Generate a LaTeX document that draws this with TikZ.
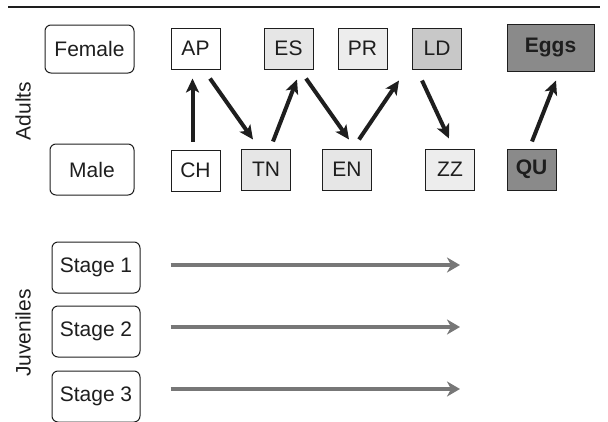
\documentclass[tikz,border=0pt]{standalone}
\usepackage{fontspec}
\setmainfont{Liberation Sans}
\usepackage{tikz}
\usetikzlibrary{arrows.meta}

\definecolor{inkgray}{HTML}{1E1E1E}
\definecolor{lightfill}{HTML}{E6E6E6}
\definecolor{paler}{HTML}{EDEDED}
\definecolor{midfill}{HTML}{C8C8C8}
\definecolor{darkfill}{HTML}{8A8A8A}
\definecolor{juvgray}{HTML}{777777}

\begin{document}
\begin{tikzpicture}[x=1pt,y=-1pt,
    font=\fontsize{21}{24}\selectfont,text=inkgray,
    sexbox/.style={draw=inkgray,line width=1pt,rounded corners=6pt,minimum height=48pt,inner sep=0pt},
    cls/.style={draw=inkgray,line width=1pt,minimum width=49pt,minimum height=41pt,inner sep=0pt},
    flow/.style={-{Stealth[length=14pt,width=13pt,inset=3.5pt]},line width=4pt,inkgray},
    juv/.style={-{Stealth[length=13pt,width=15pt,inset=4pt]},line width=4.2pt,juvgray}]
  \clip (0,0) rectangle (608,421);
  \draw[line width=1.6pt,inkgray] (8,7) -- (600,7);
  % adults
  \node[rotate=90] (adults) at (23,111) {Adults};
  \node[sexbox,minimum width=89pt] (female) at (89.5,49) {Female};
  \node[sexbox,minimum width=84pt,minimum height=51pt] (male) at (92,169.5) {Male};
  \node[cls] (AP) at (195.5,48.5) {AP};
  \node[cls,fill=lightfill] (ES) at (288.5,48.5) {ES};
  \node[cls,fill=paler] (PR) at (362.5,48.5) {PR};
  \node[cls,fill=midfill] (LD) at (437,48.5) {LD};
  \node[cls,fill=darkfill,minimum width=87pt,minimum height=47pt,font=\fontsize{21}{24}\selectfont\bfseries] (eggs) at (550.5,47.5) {Eggs};
  \node[cls] (CH) at (195.5,170.5) {CH};
  \node[cls,fill=lightfill] (TN) at (266,169.5) {TN};
  \node[cls,fill=lightfill] (EN) at (347,169.5) {EN};
  \node[cls,fill=paler] (ZZ) at (450,169.5) {ZZ};
  \node[cls,fill=darkfill,font=\fontsize{21}{24}\selectfont\bfseries] (QU) at (531.5,169.5) {QU};
  \draw[flow] ([shift={(-3,-8)}]CH.north) -- ([shift={(-3,9)}]AP.south);
  \draw[flow] ([shift={(14.5,9)}]AP.south) -- ([shift={(-13,-9)}]TN.north);
  \draw[flow] ([shift={(7,-7)}]TN.north) -- ([shift={(8.5,10)}]ES.south);
  \draw[flow] ([shift={(17.5,9)}]ES.south) -- ([shift={(2,-9)}]EN.north);
  \draw[flow] ([shift={(12,-9)}]EN.north) -- ([shift={(-38,11)}]LD.south);
  \draw[flow] ([shift={(-15,11)}]LD.south) -- ([shift={(-1,-10)}]ZZ.north);
  \draw[flow] ([shift={(0.5,-7)}]QU.north) -- ([shift={(5.5,9)}]eggs.south);
  % juveniles
  \node[rotate=90] (juveniles) at (23,333) {Juveniles};
  \node[sexbox,minimum width=88pt,minimum height=51pt] (stage1) at (96,267.5) {Stage 1};
  \node[sexbox,minimum width=88pt,minimum height=51pt] (stage2) at (96,331.5) {Stage 2};
  \node[sexbox,minimum width=88pt,minimum height=51pt] (stage3) at (96,396.5) {Stage 3};
  \coordinate (end1) at (460,265);
  \coordinate (end2) at (460,327);
  \coordinate (end3) at (460,389);
  \draw[juv] ([shift={(30,-2.5)}]stage1.east) -- (end1);
  \draw[juv] ([shift={(30,-4.5)}]stage2.east) -- (end2);
  \draw[juv] ([shift={(30,-7.5)}]stage3.east) -- (end3);
\end{tikzpicture}
\end{document}
